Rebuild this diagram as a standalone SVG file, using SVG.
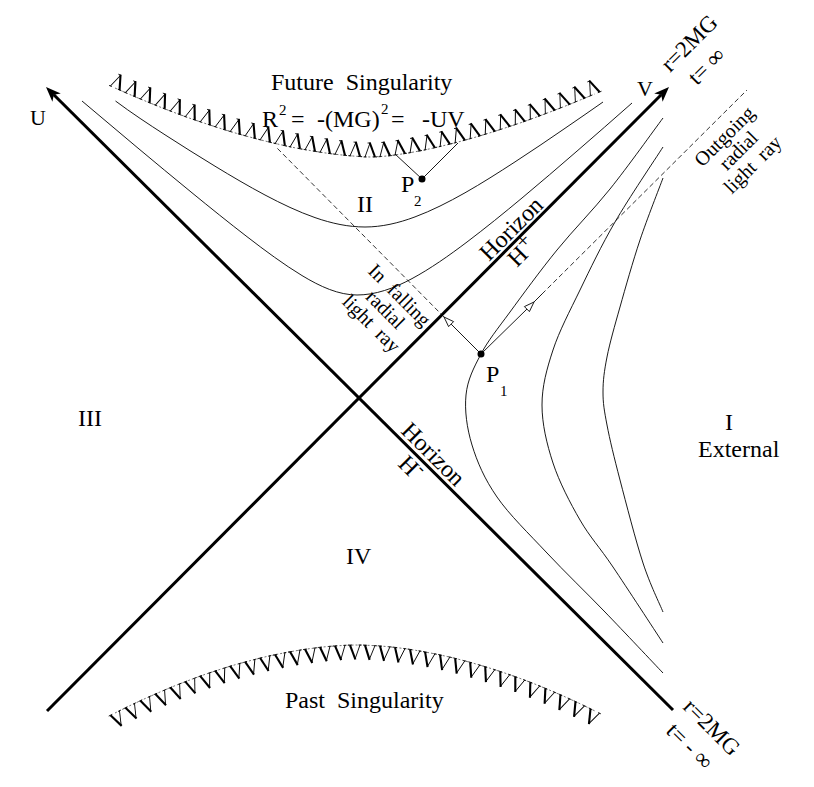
<svg xmlns="http://www.w3.org/2000/svg" width="814" height="787" viewBox="0 0 814 787">
<defs>
<style>
.t{font-family:"Liberation Serif","Times New Roman",serif;font-size:24px;fill:#000}
.m{font-size:20px}
.sub{font-size:15px}
.thin{fill:none;stroke:#000;stroke-width:0.9}
.axis{fill:none;stroke:#000;stroke-width:3}
.dash{fill:none;stroke:#000;stroke-width:0.8;stroke-dasharray:5 3}
.sing{fill:none;stroke:#333;stroke-width:0.7;stroke-dasharray:2 2}
.open{fill:#fff;stroke:#000;stroke-width:0.9}
</style>
<marker id="lam" markerUnits="userSpaceOnUse" viewBox="-12 -20 24 26" markerWidth="24" markerHeight="26" refX="0" refY="0" orient="auto">
<g fill="none" stroke="#000" stroke-dasharray="none">
<path d="M-5,0 L0,-14" stroke-width="0.9"/>
<path d="M-0.3,-14.5 L5,0" stroke-width="2.1"/>
<path d="M-2.5,-14 H0.5" stroke-width="0.8"/>
<path d="M-6.5,0 H-3.5 M3,0 H7" stroke-width="0.8"/>
</g>
</marker>
<marker id="vee" markerUnits="userSpaceOnUse" viewBox="-12 -6 24 26" markerWidth="24" markerHeight="26" refX="0" refY="0" orient="auto">
<g fill="none" stroke="#000" stroke-dasharray="none">
<path d="M-5,0 L0.3,14.5" stroke-width="2.1"/>
<path d="M5,0 L0,14" stroke-width="0.9"/>
<path d="M-7,0 H-3 M3.5,0 H6.5" stroke-width="0.8"/>
</g>
</marker>
</defs>
<rect width="814" height="787" fill="#fff"/>

<g id="connectors">
<line class="axis" x1="673" y1="710" x2="53.8" y2="94.8"/>
<polygon points="46,87 60.8,93.4 53.8,94.8 52.4,101.8" fill="#000"/>
<line class="axis" x1="47" y1="711" x2="661.2" y2="94.8"/>
<polygon points="669,87 654.2,93.4 661.2,94.8 662.6,101.8" fill="#000"/>
<path class="thin" d="M115.5,101 C131.67,113.08 148.33,124.05 165,134.8 C181.67,145.55 198.33,156.07 215,166.2 C231.67,176.33 248.33,186.15 265,195 C281.67,203.85 298.33,211.77 315,217.6 C331.67,223.43 348.33,227 365,227 C381.67,227 398.33,223.14 415,216.9 C431.67,210.66 448.33,202.27 465,192.8 C481.67,183.33 498.33,172.75 515,161.9 C531.67,151.05 548.33,139.8 565,128.3 C577.67,119.56 590.33,110.96 603,102"/>
<path class="thin" d="M82,101 C100.33,116.51 118.67,131.96 137,147.3 C155.33,162.64 173.67,177.82 192,192.8 C210.33,207.78 228.67,222.59 247,236.7 C265.33,250.81 283.67,264.44 302,275.55 C320.33,286.66 338.67,295 357,295 C375.33,295 393.67,288.5 412,278.62 C430.33,268.74 448.67,255.84 467,242 C485.33,228.16 503.67,213.27 522,198 C540.33,182.73 558.67,166.97 577,151.1 C595.33,135.23 613.67,119.2 632,103"/>
<path class="thin" d="M663,118 C654.2,129.8 627.7,167 610,189 C592.3,211 573.7,229.5 557,250 C540.3,270.5 522.7,294.7 510,312 C497.3,329.3 488.3,340.2 481,354 C473.7,367.8 467.5,379.8 466,395 C464.5,410.2 466.8,428 472,445 C477.2,462 484.5,479 497,497 C509.5,515 529,533.8 547,553 C565,572.2 585.7,592 605,612 C624.3,632 653.3,662.8 663,673"/>
<path class="thin" d="M663,147 C655,159.5 628.8,198.2 615,222 C601.2,245.8 590.3,268.7 580,290 C569.7,311.3 559.3,330.8 553,350 C546.7,369.2 542,386.2 542,405 C542,423.8 546.7,443.8 553,463 C559.3,482.2 570,502.7 580,520 C590,537.3 599.2,546.5 613,567 C626.8,587.5 654.7,630.3 663,643"/>
<path class="thin" d="M663,178 C659.2,188.3 647.2,218.5 640,240 C632.8,261.5 625.5,287.5 620,307 C614.5,326.5 609.8,342.8 607,357 C604.2,371.2 603,380.7 603,392 C603,403.3 604.2,410.3 607,425 C609.8,439.7 614,457 620,480 C626,503 635.8,541 643,563 C650.2,585 659.7,603.8 663,612"/>
<line class="thin" x1="481" y1="354" x2="451.1" y2="324.1"/>
<polygon class="open" points="444,317 453.6,321.6 448.6,326.6"/>
<line class="dash" x1="444" y1="317" x2="277" y2="148"/>
<line class="thin" x1="481" y1="354" x2="527" y2="309"/>
<line class="thin" x1="534" y1="302" x2="542" y2="294"/>
<polygon class="open" points="534,302 529.4,311.6 524.4,306.6"/>
<line class="dash" x1="542" y1="294" x2="747" y2="90"/>
<polyline class="thin" points="395,154 422,179 458,143"/>
</g>

<g id="future-singularity">
<polyline class="sing" marker-start="url(#lam)" marker-mid="url(#lam)" marker-end="url(#lam)" points="115,88 130,94.6 145,100.9 160,107 175,112.8 190,118.3 205,123.4 220,128.3 235,132.9 250,137.1 265,141 280,144.6 295,147.8 310,150.5 325,152.9 340,154.8 355,156.2 370,157 385,156.2 400,154.3 415,151.8 430,148.8 445,145.3 460,141.5 475,137.3 490,132.8 505,128 520,123 535,117.6 550,112 565,106.2 580,100.1 595,93.9"/>
<text class="t" x="271" y="90" xml:space="preserve">Future  Singularity</text>
<text class="t" y="127"><tspan x="262">R</tspan><tspan class="sub" x="279" y="115">2</tspan><tspan x="291" y="127">=</tspan><tspan x="317">-(MG)</tspan><tspan class="sub" x="381" y="114">2</tspan><tspan x="391" y="127">=</tspan><tspan x="422">-UV</tspan></text>
</g>

<g id="past-singularity">
<polyline class="sing" marker-start="url(#vee)" marker-mid="url(#vee)" marker-end="url(#vee)" points="115,713 130,705.6 145,698.6 160,692 175,685.7 190,679.9 205,674.4 220,669.4 235,664.8 250,660.7 265,656.9 280,653.7 295,650.9 310,648.6 325,646.8 340,645.6 355,645 370,645.4 385,646.4 400,648 415,650.2 430,652.9 445,656 460,659.6 475,663.7 490,668.2 505,673.1 520,678.4 535,684.1 550,690.3 565,696.8 580,703.7 595,711"/>
<text class="t" x="285" y="708" xml:space="preserve">Past  Singularity</text>
</g>

<g id="axis-labels">
<text class="t" x="30" y="125" style="font-size:22px">U</text>
<text class="t" x="637" y="96" style="font-size:22px">V</text>
<text class="t" style="font-size:23px" transform="translate(670,73) rotate(-45)">r=2MG</text>
<text class="t" style="font-size:23px" transform="translate(697,86) rotate(-45)" xml:space="preserve">t= ∞</text>
<text class="t" style="font-size:23px" transform="translate(682,708) rotate(45)">r=2MG</text>
<text class="t" style="font-size:23px" transform="translate(665,732) rotate(45)" xml:space="preserve">t= - ∞</text>
</g>

<g id="horizon-plus">
<text class="t" transform="translate(489,262) rotate(-45)">Horizon</text>
<text class="t" transform="translate(517,268) rotate(-45)">H<tspan dy="-8" style="font-size:22px">+</tspan></text>
</g>

<g id="horizon-minus">
<text class="t" transform="translate(400,432) rotate(45)">Horizon</text>
<text class="t" transform="translate(397,465) rotate(45)">H<tspan dy="-10" style="font-size:18px">-</tspan></text>
</g>

<g id="region-I">
<text class="t" x="725" y="430">I</text>
<text class="t" x="698" y="457">External</text>
</g>
<g id="region-II"><text class="t" x="357" y="212">II</text></g>
<g id="region-III"><text class="t" x="78" y="426">III</text></g>
<g id="region-IV"><text class="t" x="346" y="564">IV</text></g>

<g id="P1">
<circle cx="481" cy="354" r="3.5" fill="#000"/>
<text class="t" x="486" y="382">P</text>
<text class="t sub" x="500" y="396">1</text>
</g>
<g id="P2">
<circle cx="422" cy="179" r="3.5" fill="#000"/>
<text class="t" x="401" y="192">P</text>
<text class="t sub" x="414" y="206">2</text>
</g>

<g id="outgoing-label" transform="translate(729,141) rotate(-45)">
<text class="t m" x="0" y="0" text-anchor="middle">Outgoing</text>
<text class="t m" x="0" y="20" text-anchor="middle">radial</text>
<text class="t m" x="0" y="40" text-anchor="middle" xml:space="preserve">light  ray</text>
</g>
<g id="infalling-label" transform="translate(395,300) rotate(45)">
<text class="t m" x="0" y="0" text-anchor="middle" xml:space="preserve">In  falling</text>
<text class="t m" x="0" y="20" text-anchor="middle">radial</text>
<text class="t m" x="0" y="40" text-anchor="middle" xml:space="preserve">light  ray</text>
</g>
</svg>
